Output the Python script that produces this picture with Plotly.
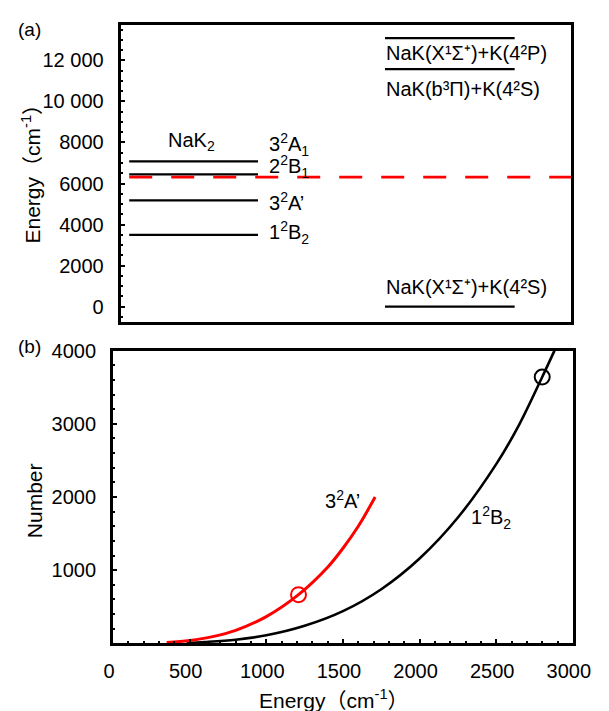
import plotly.graph_objects as go

# ---------------- data ----------------
# (a) energy levels, cm^-1
nak2_states = ["3<sup>2</sup>A<sub>1</sub>", "2<sup>2</sup>B<sub>1</sub>", "3<sup>2</sup>A’", "1<sup>2</sup>B<sub>2</sub>"]
nak2_energies = [7080, 6440, 5180, 3500]
asym_states = ["NaK(X¹Σ⁺)+K(4²P)", "NaK(b³Π)+K(4²S)", "NaK(X¹Σ⁺)+K(4²S)"]
asym_energies = [13080, 11570, 0]
threshold_energy = [6312]
energy_ticks = [0, 2000, 4000, 6000, 8000, 10000, 12000]
energy_ticktext = ["0", "2000", "4000", "6000", "8000", "10 000", "12 000"]

# (b) number of states vs energy
e_1B2 = [480, 600, 800, 1000, 1250, 1500, 1750, 2000, 2250, 2500, 2650, 2800, 2880]
n_1B2 = [5, 18, 50, 110, 240, 440, 740, 1160, 1720, 2450, 2990, 3640, 4000]
e_3A = [350, 500, 650, 800, 1000, 1210, 1400, 1500, 1600, 1710]
n_3A = [12, 40, 92, 178, 365, 665, 1040, 1300, 1600, 2000]
mark_1B2 = ([2800], [3640])
mark_3A = ([1210], [665])

W, H = 609, 711
FONT = "Liberation Sans, Arial, Noto Sans CJK SC, sans-serif"

def px(x):
    return x / W

def py(y):
    return 1 - y / H

fig = go.Figure()

# top panel: x in [0,100]
LX0, LX1 = 1.9, 30.5
RX0, RX1 = 58.7, 87.5
for e in nak2_energies:
    fig.add_trace(go.Scatter(x=[LX0, LX1], y=[e, e], mode="lines",
                             line=dict(color="black", width=2.2), xaxis="x", yaxis="y",
                             showlegend=False, hoverinfo="skip"))
for e in asym_energies:
    fig.add_trace(go.Scatter(x=[RX0, RX1], y=[e, e], mode="lines",
                             line=dict(color="black", width=2.2), xaxis="x", yaxis="y",
                             showlegend=False, hoverinfo="skip"))
fig.add_trace(go.Scatter(x=[LX0, 100], y=threshold_energy * 2, mode="lines",
                         line=dict(color="#ff0000", width=2.8, dash="23px,19px"),
                         xaxis="x", yaxis="y", showlegend=False, hoverinfo="skip"))

# bottom panel curves
fig.add_trace(go.Scatter(x=e_1B2, y=n_1B2, mode="lines", line=dict(color="black", width=2.6, shape="spline"),
                         xaxis="x2", yaxis="y2", showlegend=False))
fig.add_trace(go.Scatter(x=e_3A, y=n_3A, mode="lines", line=dict(color="#ff0000", width=3, shape="spline"),
                         xaxis="x2", yaxis="y2", showlegend=False))
fig.add_trace(go.Scatter(x=mark_1B2[0], y=mark_1B2[1], mode="markers",
                         marker=dict(symbol="circle-open", size=15, color="black", line=dict(width=2)),
                         xaxis="x2", yaxis="y2", showlegend=False))
fig.add_trace(go.Scatter(x=mark_3A[0], y=mark_3A[1], mode="markers",
                         marker=dict(symbol="circle-open", size=15, color="#ff0000", line=dict(width=2)),
                         xaxis="x2", yaxis="y2", showlegend=False))

axis_common = dict(showline=True, linecolor="black", linewidth=3, mirror=True, showgrid=False,
                   zeroline=False, tickcolor="black", tickwidth=2, ticklabeloverflow="allow",
                   tickfont=dict(size=20, color="black", family=FONT))

fig.update_layout(
    width=W, height=H, margin=dict(l=0, r=0, t=0, b=0),
    paper_bgcolor="white", plot_bgcolor="white",
    font=dict(family=FONT, color="black", size=20),
    xaxis=dict(domain=[px(116), px(588)], range=[0, 100], anchor="y", showticklabels=False,
               ticks="", **{k: v for k, v in axis_common.items() if k not in ("tickfont",)}),
    yaxis=dict(domain=[py(316), py(14)], range=[-750, 13730], anchor="x",
               tickvals=energy_ticks, ticktext=energy_ticktext, ticks="inside", ticklen=4,
               ticklabelstandoff=10,
               minor=dict(ticks="inside", ticklen=2, dtick=500, tick0=0, tickcolor="black", tickwidth=2),
               **axis_common),
    xaxis2=dict(domain=[px(108), px(590)], range=[0, 3000], anchor="y2", tickvals=[0, 500, 1000, 1500, 2000, 2500, 3000],
                ticks="inside", ticklen=4, ticklabelstandoff=8, ticklabelshift=-4,
                minor=dict(ticks="inside", ticklen=2, dtick=100, tick0=0, tickcolor="black", tickwidth=2),
                **axis_common),
    yaxis2=dict(domain=[py(642.3), py(345)], range=[0, 4000], anchor="x2", tickvals=[1000, 2000, 3000, 4000],
                ticks="inside", ticklen=4, ticklabelstandoff=10,
                minor=dict(ticks="inside", ticklen=2, dtick=200, tick0=0, tickcolor="black", tickwidth=2),
                **axis_common),
)

ann = []
# top panel labels
ann.append(dict(x=15.7, y=8050, xref="x", yref="y", text="NaK<sub>2</sub>", showarrow=False,
                xanchor="center", yanchor="middle"))
label_y = [7880, 6825, 5122, 3611]
for s, yv in zip(nak2_states, label_y):
    ann.append(dict(x=32.4, y=yv, xref="x", yref="y", text=s, showarrow=False,
                    xanchor="left", yanchor="middle"))
asym_label_y = [12365, 10614, 974]
for s, yv in zip(asym_states, asym_label_y):
    ann.append(dict(x=58.5, y=yv, xref="x", yref="y", text=s, showarrow=False,
                    xanchor="left", yanchor="middle"))
# bottom panel labels
ann.append(dict(x=1500, y=1970, xref="x2", yref="y2", text="3<sup>2</sup>A’", showarrow=False,
                xanchor="center", yanchor="middle"))
ann.append(dict(x=2465, y=1720, xref="x2", yref="y2", text="1<sup>2</sup>B<sub>2</sub>", showarrow=False,
                xanchor="center", yanchor="middle"))
# panel letters
ann.append(dict(x=px(20), y=py(19), xref="paper", yref="paper", text="(a)", showarrow=False,
                xanchor="center", yanchor="middle", font=dict(size=19)))
ann.append(dict(x=px(20), y=py(341), xref="paper", yref="paper", text="(b)", showarrow=False,
                xanchor="center", yanchor="middle", font=dict(size=19)))
# axis titles
ann.append(dict(x=px(22), y=py(160), xref="paper", yref="paper", text="Energy（cm<sup>-1</sup>）",
                showarrow=False, textangle=-90, xanchor="center", yanchor="middle", font=dict(size=21)))
ann.append(dict(x=px(25), y=py(497), xref="paper", yref="paper", text="Number",
                showarrow=False, textangle=-90, xanchor="center", yanchor="middle", font=dict(size=21)))
ann.append(dict(x=px(340), y=py(699), xref="paper", yref="paper", text="Energy（cm<sup>-1</sup>）",
                showarrow=False, xanchor="center", yanchor="middle", font=dict(size=21)))
fig.update_layout(annotations=ann)

fig.write_html("out.html", config={"displayModeBar": False},
               post_script="document.body.style.margin='0';document.body.style.padding='0';"
                           "document.documentElement.style.overflow='hidden';")
